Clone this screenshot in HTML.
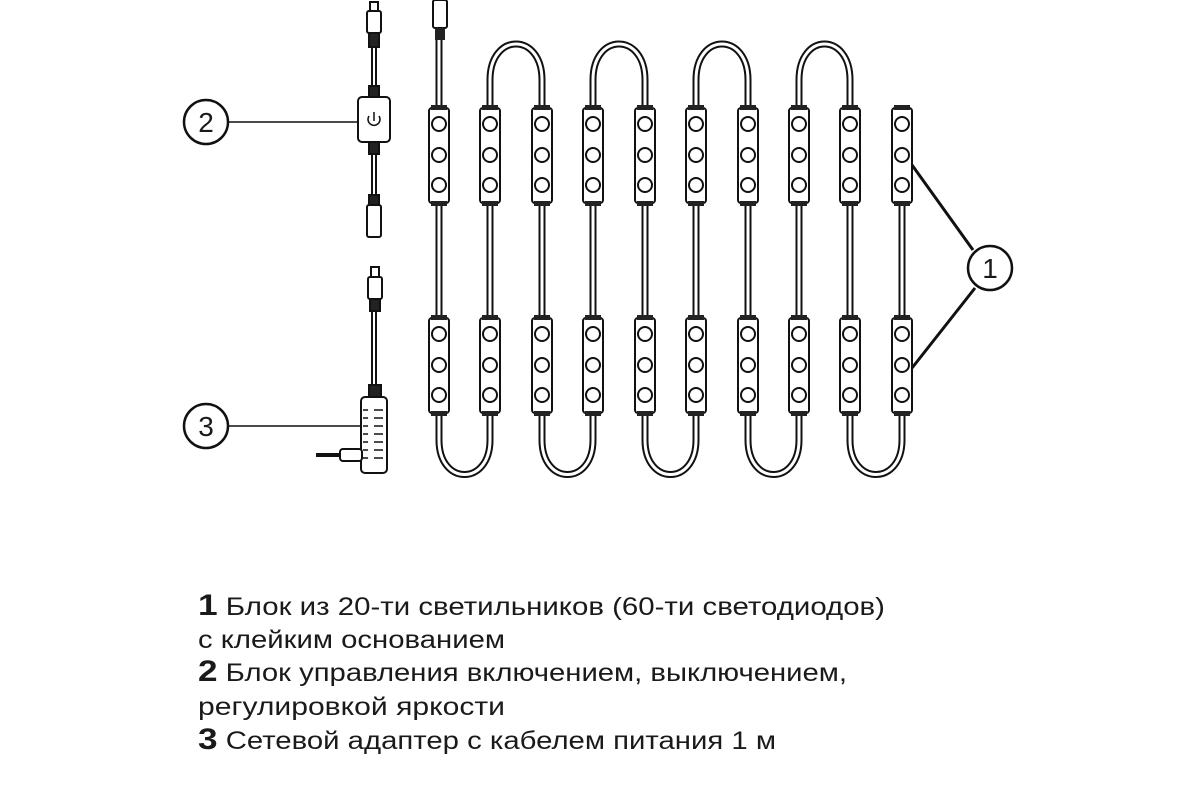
<!DOCTYPE html>
<html><head><meta charset="utf-8"><style>
html,body{margin:0;padding:0;background:#fff}
svg{display:block}
text{font-family:"Liberation Sans",sans-serif;fill:#1a1a1a}
</style></head><body>
<svg width="1200" height="800" viewBox="0 0 1200 800" xmlns="http://www.w3.org/2000/svg">
<defs>
<g id="mod">
<rect x="-10" y="0" width="20" height="95" rx="3" fill="#fff" stroke="#111" stroke-width="2"/>
<rect x="-8" y="-3" width="16" height="5" fill="#222"/>
<rect x="-8" y="93" width="16" height="5" fill="#222"/>
<circle cx="0" cy="16" r="7" fill="#fff" stroke="#111" stroke-width="2"/>
<circle cx="0" cy="47" r="7" fill="#fff" stroke="#111" stroke-width="2"/>
<circle cx="0" cy="77" r="7" fill="#fff" stroke="#111" stroke-width="2"/>
</g>
</defs>
<g fill="none" stroke-linecap="butt">
<g stroke="#111" stroke-width="7">
<path id="w" d="M439 38V108 M439 203V318 M490 203V318 M542 203V318 M593 203V318 M645 203V318 M696 203V318 M748 203V318 M799 203V318 M850 203V318 M902 203V318
M490 108V80C490 32 542 32 542 80V108
M593 108V80C593 32 645 32 645 80V108
M696 108V80C696 32 748 32 748 80V108
M799 108V80C799 32 850 32 850 80V108
M439 413V440C439 486 490 486 490 440V413
M542 413V440C542 486 593 486 593 440V413
M645 413V440C645 486 696 486 696 440V413
M748 413V440C748 486 799 486 799 440V413
M850 413V440C850 486 902 486 902 440V413"/>
</g>
<use href="#w" stroke="#fff" stroke-width="3"/>
</g>
<g>
<use href="#mod" x="439" y="108"/><use href="#mod" x="490" y="108"/><use href="#mod" x="542" y="108"/><use href="#mod" x="593" y="108"/><use href="#mod" x="645" y="108"/><use href="#mod" x="696" y="108"/><use href="#mod" x="748" y="108"/><use href="#mod" x="799" y="108"/><use href="#mod" x="850" y="108"/><use href="#mod" x="902" y="108"/>
<use href="#mod" x="439" y="318"/><use href="#mod" x="490" y="318"/><use href="#mod" x="542" y="318"/><use href="#mod" x="593" y="318"/><use href="#mod" x="645" y="318"/><use href="#mod" x="696" y="318"/><use href="#mod" x="748" y="318"/><use href="#mod" x="799" y="318"/><use href="#mod" x="850" y="318"/><use href="#mod" x="902" y="318"/>
</g>
<rect x="433" y="0" width="14" height="28" rx="2" fill="#fff" stroke="#111" stroke-width="2"/>
<rect x="435" y="28" width="10" height="12" fill="#222"/>
<g stroke="#111" stroke-width="2" fill="#fff">
<line x1="374" y1="45" x2="374" y2="200" stroke-width="6"/>
<line x1="374" y1="45" x2="374" y2="200" stroke="#fff" stroke-width="2"/>
<rect x="370" y="2" width="8" height="10"/>
<rect x="367" y="11" width="14" height="22" rx="2"/>
<rect x="369" y="33" width="10" height="14" fill="#222"/>
<rect x="369" y="86" width="10" height="12" fill="#222"/>
<rect x="358" y="97" width="32" height="45" rx="4"/>
<rect x="369" y="142" width="10" height="12" fill="#222"/>
<rect x="369" y="195" width="10" height="10" fill="#222"/>
<rect x="367" y="205" width="14" height="32" rx="2"/>
<path d="M369 116a6 6 0 1 0 10 0" fill="none" stroke-width="1.5"/>
<line x1="374" y1="112" x2="374" y2="121" stroke-width="1.5"/>
</g>
<g stroke="#111" stroke-width="2" fill="#fff">
<line x1="374" y1="300" x2="374" y2="392" stroke-width="6"/>
<line x1="374" y1="300" x2="374" y2="392" stroke="#fff" stroke-width="2"/>
<rect x="371" y="267" width="8" height="10"/>
<rect x="368" y="277" width="14" height="22" rx="2"/>
<rect x="370" y="299" width="10" height="12" fill="#222"/>
<rect x="369" y="385" width="12" height="12" fill="#222"/>
<rect x="361" y="397" width="26" height="76" rx="4"/>
<line x1="316" y1="455" x2="342" y2="455" stroke-width="4"/>
<rect x="340" y="449" width="22" height="12" rx="3"/>
</g>
<g stroke="#111" stroke-width="1.5">
<path d="M363 410h5M363 418h5M363 426h5M363 434h5M363 442h5M363 450h5M363 458h5"/>
<path d="M374 410h9M374 418h9M374 426h9M374 434h9M374 442h9M374 450h9M374 458h9"/>
</g>
<g stroke="#111" stroke-width="2.5" fill="#fff">
<line x1="228" y1="122" x2="358" y2="122" stroke-width="1.5"/>
<line x1="228" y1="426" x2="361" y2="426" stroke-width="1.5"/>
<line x1="912" y1="165" x2="973" y2="250" stroke-width="3"/>
<line x1="912" y1="368" x2="975" y2="288" stroke-width="3"/>
<circle cx="206" cy="122" r="22"/>
<circle cx="206" cy="426" r="22"/>
<circle cx="990" cy="268" r="22"/>
</g>
<text x="206" y="132" font-size="28" text-anchor="middle">2</text>
<text x="206" y="436" font-size="28" text-anchor="middle">3</text>
<text x="990" y="278" font-size="28" text-anchor="middle">1</text>
<g font-size="25">
<text x="198" y="615" textLength="687" lengthAdjust="spacingAndGlyphs"><tspan font-weight="bold" font-size="30">1</tspan> Блок из 20-ти светильников (60-ти светодиодов)</text>
<text x="198" y="648" textLength="307" lengthAdjust="spacingAndGlyphs">с клейким основанием</text>
<text x="198" y="681" textLength="649" lengthAdjust="spacingAndGlyphs"><tspan font-weight="bold" font-size="30">2</tspan> Блок управления включением, выключением,</text>
<text x="198" y="715" textLength="307" lengthAdjust="spacingAndGlyphs">регулировкой яркости</text>
<text x="198" y="749" textLength="578" lengthAdjust="spacingAndGlyphs"><tspan font-weight="bold" font-size="30">3</tspan> Сетевой адаптер с кабелем питания 1 м</text>
</g>
</svg>
</body></html>
